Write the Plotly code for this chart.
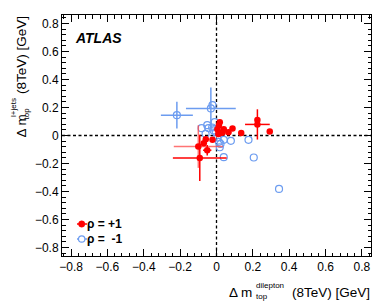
import plotly.graph_objects as go

# ---- data ----
# rho = +1 (red filled)
red_x = [0.225, 0.225, 0.293, 0.136, 0.088, 0.066, 0.040, 0.033, 0.018, 0.013, 0.024, 0.005,
         -0.022, -0.070, -0.059, -0.051, -0.092, 0.010]
red_y = [0.079, 0.110, 0.029, 0.017, 0.050, 0.024, 0.045, 0.021, 0.095, 0.071, 0.017, 0.045,
         -0.031, -0.055, -0.026, -0.105, -0.160, 0.010]
red_xerr = [0.068, 0, 0, 0, 0, 0, 0, 0, 0, 0, 0, 0, 0, 0, 0, 0.023, 0.148, 0]
red_yerr = [0.108, 0, 0, 0, 0, 0, 0, 0, 0, 0, 0, 0, 0, 0, 0, 0.038, 0.165, 0]
# rho = +1 point drawn with lighter error bars
pink_x = [-0.100]
pink_y = [-0.079]
pink_xerr = [0.135]
pink_yerr = [0.152]
# rho = -1 (blue open)
blue_x = [-0.218, -0.031, -0.022, -0.082, -0.051, -0.060, -0.024, -0.016, -0.010, -0.004,
          0.005, 0.013, 0.018, 0.040, 0.079, 0.040, 0.176, 0.205, 0.344, 0.022, -0.044]
blue_y = [0.145, 0.193, 0.217, 0.052, 0.074, 0.012, 0.057, 0.036, 0.095, 0.024,
          -0.015, -0.045, -0.084, -0.031, -0.038, -0.155, -0.031, -0.157, -0.381, -0.060, 0.053]
blue_xerr = [0.088, 0.137] + [0] * 19
blue_yerr = [0.095, 0.150] + [0] * 19

tick_vals = [-0.8, -0.6, -0.4, -0.2, 0, 0.2, 0.4, 0.6, 0.8]
tick_text = ["\u22120.8", "\u22120.6", "\u22120.4", "\u22120.2", "0", "0.2", "0.4", "0.6", "0.8"]

RED = "#ff0000"
PINK = "rgba(255,70,70,0.75)"
BLUE = "#6c9cf0"
FONT = "Liberation Sans, Arial, sans-serif"

W, H = 390, 305
L, R, T, B = 62, 19, 15, 49
PW, PH = W - L - R, H - T - B


def px(x):
    return (x - L) / PW


def py(y):
    return (H - B - y) / PH


fig = go.Figure()

fig.add_trace(go.Scatter(
    x=blue_x, y=blue_y, mode="markers",
    marker=dict(symbol="circle-open", size=7, color=BLUE, line=dict(width=1.2, color=BLUE)),
    error_x=dict(type="data", array=blue_xerr, color=BLUE, thickness=1.5, width=0),
    error_y=dict(type="data", array=blue_yerr, color=BLUE, thickness=1.5, width=0),
    showlegend=False))

fig.add_trace(go.Scatter(
    x=pink_x, y=pink_y, mode="markers",
    marker=dict(symbol="circle", size=6.5, color=RED),
    error_x=dict(type="data", array=pink_xerr, color=PINK, thickness=1.5, width=0),
    error_y=dict(type="data", array=pink_yerr, color=PINK, thickness=1.5, width=0),
    showlegend=False))

fig.add_trace(go.Scatter(
    x=red_x, y=red_y, mode="markers",
    marker=dict(symbol="circle", size=6.5, color=RED),
    error_x=dict(type="data", array=red_xerr, color=RED, thickness=1.5, width=0),
    error_y=dict(type="data", array=red_yerr, color=RED, thickness=1.5, width=0),
    showlegend=False))

# reference dashed lines through zero
fig.add_shape(type="line", xref="x", yref="paper", x0=0, x1=0, y0=0, y1=1,
              line=dict(color="black", width=1.3, dash="3px,2.5px"), layer="below")
fig.add_shape(type="line", xref="paper", yref="y", x0=0, x1=1, y0=0, y1=0,
              line=dict(color="black", width=1.3, dash="3px,2.5px"), layer="below")

# legend swatches
r = 3.2
fig.add_shape(type="line", xref="paper", yref="paper", x0=px(77), x1=px(87), y0=py(224), y1=py(224),
              line=dict(color=RED, width=1.5))
fig.add_shape(type="circle", xref="paper", yref="paper",
              x0=px(81.7 - r), x1=px(81.7 + r), y0=py(224 + r), y1=py(224 - r),
              fillcolor=RED, line=dict(color=RED, width=0.5))
fig.add_shape(type="line", xref="paper", yref="paper", x0=px(77), x1=px(87), y0=py(239), y1=py(239),
              line=dict(color=BLUE, width=1.5))
fig.add_shape(type="circle", xref="paper", yref="paper",
              x0=px(81.7 - r), x1=px(81.7 + r), y0=py(239 + r), y1=py(239 - r),
              fillcolor="white", line=dict(color=BLUE, width=1.2))

ann = []


def A(text, x, y, size, xa="left", ya="middle", angle=0, bold=False, italic=False):
    t = text
    if bold:
        t = "<b>" + t + "</b>"
    if italic:
        t = "<i>" + t + "</i>"
    ann.append(dict(text=t, x=px(x), y=py(y), xref="paper", yref="paper", showarrow=False,
                    xanchor=xa, yanchor=ya, textangle=angle, borderpad=0,
                    font=dict(family=FONT, size=size, color="black")))


A("ATLAS", 74, 38, 14, bold=True, italic=True)
A("\u03c1 = +1", 86, 224, 12, bold=True)
A("\u03c1 =  -1", 86, 239, 12, bold=True)

# x-axis title
A("(8TeV) [GeV]", 371, 292, 13.5, xa="right")
A("\u0394 m", 253, 292, 13.5, xa="right")
A("dilepton", 254.5, 285.5, 8, xa="left")
A("top", 254.5, 296.5, 8, xa="left")

# y-axis title (rotated)
A("(8TeV) [GeV]", 21, 15, 13.5, xa="center", ya="top", angle=-90)
A("\u0394 m", 21, 139, 13.5, xa="center", ya="bottom", angle=-90)
A("l+jets", 13.5, 97, 8, xa="center", ya="top", angle=-90)
A("top", 25.5, 107, 8, xa="center", ya="top", angle=-90)

axis_common = dict(
    tickvals=tick_vals, ticktext=tick_text,
    ticks="inside", ticklen=7, tickwidth=1, tickcolor="black",
    minor=dict(dtick=0.04, ticks="inside", ticklen=3.5, tickwidth=1, tickcolor="black", showgrid=False),
    showline=True, linecolor="black", linewidth=1, mirror="allticks",
    showgrid=False, zeroline=False,
    tickfont=dict(family=FONT, size=12, color="black"),
)

fig.update_layout(
    width=W, height=H,
    margin=dict(l=L, r=R, t=T, b=B, autoexpand=False),
    paper_bgcolor="white", plot_bgcolor="white",
    xaxis=dict(range=[-0.85, 0.85], **axis_common),
    yaxis=dict(range=[-0.86, 0.86], **axis_common),
    annotations=ann,
    showlegend=False,
)

fig.write_html("out.html", config={"displayModeBar": False},
               post_script="document.body.style.margin='0';document.body.style.padding='0';")
